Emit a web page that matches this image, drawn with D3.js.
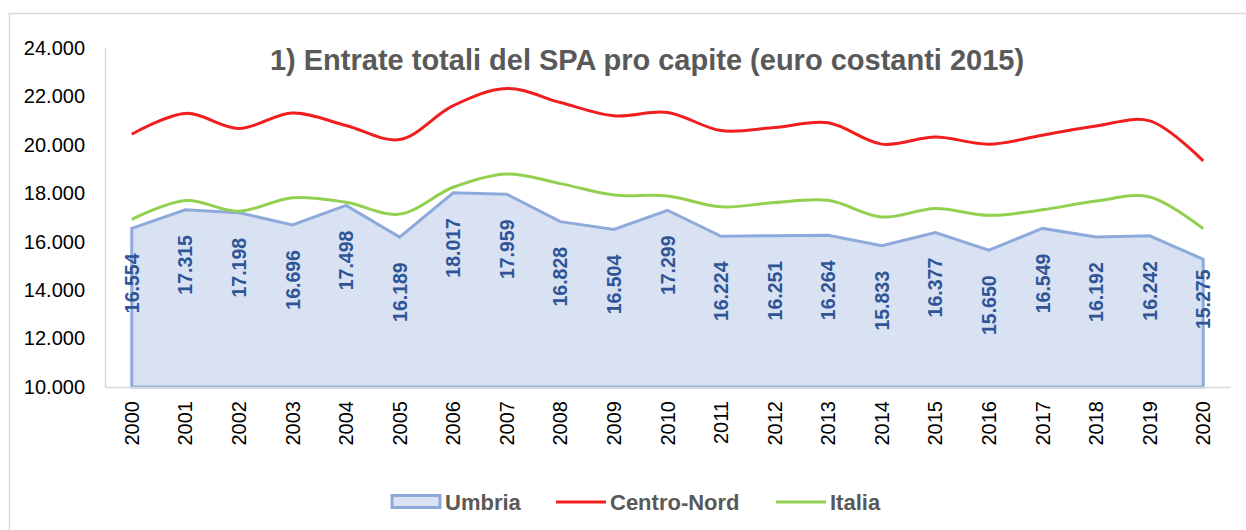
<!DOCTYPE html>
<html>
<head>
<meta charset="utf-8">
<script src="https://cdn.jsdelivr.net/npm/d3@7"></script>
<style>
  html, body { margin: 0; padding: 0; background: #fff; }
  svg { display: block; font-family: "Liberation Sans", Arial, sans-serif; }
</style>
</head>
<body>
<div id="chart"></div>
<script>
// data
const years = ["2000","2001","2002","2003","2004","2005","2006","2007","2008","2009","2010",
  "2011","2012","2013","2014","2015","2016","2017","2018","2019","2020"];
const umbria = [16554,17315,17198,16696,17498,16189,18017,17959,16828,16504,17299,
  16224,16251,16264,15833,16377,15650,16549,16192,16242,15275];
const centroNord = [20440,21300,20680,21320,20800,20220,21620,22330,21750,21200,21340,
  20590,20720,20910,20030,20320,20030,20400,20780,20990,19340];
const italia = [16920,17700,17260,17820,17630,17140,18250,18800,18400,17930,17890,
  17440,17620,17710,17020,17370,17090,17320,17680,17850,16540];
const yTicks = [10000,12000,14000,16000,18000,20000,22000,24000];
const title = "1) Entrate totali del SPA pro capite (euro costanti 2015)";

const W = 1246, H = 530;
const margin = {left: 105, right: 16, top: 48, bottom: 143};

const fmt = v => d3.format(",")(v).replace(/,/g, ".");

const svg = d3.select("#chart").append("svg")
  .attr("width", W).attr("height", H);

// outer frame
svg.append("rect")
  .attr("x", 9.5).attr("y", 13.5)
  .attr("width", W + 20).attr("height", H + 20)
  .attr("fill", "none").attr("stroke", "#d9d9d9").attr("stroke-width", 1.5);

const x = d3.scaleBand().domain(years).range([margin.left, W - margin.right]).padding(0);
const y = d3.scaleLinear().domain([10000, 24000]).range([H - margin.bottom, margin.top]);
const cx = d => x(d) + x.bandwidth() / 2;

// y axis labels
svg.append("g")
  .attr("transform", `translate(${margin.left},0)`)
  .call(d3.axisLeft(y).tickValues(yTicks).tickSize(0).tickPadding(20).tickFormat(fmt))
  .call(g => g.select(".domain").attr("stroke", "#d9d9d9").attr("stroke-width", 1.5))
  .call(g => g.selectAll("text").attr("font-size", 20).attr("fill", "#000")
    .attr("font-family", "Liberation Sans, Arial, sans-serif"));

// umbria area
const area = d3.area()
  .x((d, i) => cx(years[i]))
  .y0(y(10000))
  .y1(d => y(d));
svg.append("path")
  .datum(umbria)
  .attr("d", area)
  .attr("fill", "#d9e2f2")
  .attr("stroke", "#8eaadb")
  .attr("stroke-width", 3)
  .attr("stroke-linejoin", "miter");

// x axis
svg.append("g")
  .attr("transform", `translate(0,${y(10000)})`)
  .call(d3.axisBottom(x).tickSize(0).tickPadding(0))
  .call(g => g.select(".domain").attr("stroke", "#d9d9d9").attr("stroke-width", 1.5))
  .call(g => g.selectAll("text")
    .attr("font-size", 20).attr("fill", "#000")
    .attr("font-family", "Liberation Sans, Arial, sans-serif")
    .attr("text-anchor", "end")
    .attr("dy", null)
    .attr("transform", "translate(7,14) rotate(-90)"));

// smoothed lines
const line = d3.line()
  .x((d, i) => cx(years[i]))
  .y(d => y(d))
  .curve(d3.curveCatmullRom.alpha(0.5));

svg.append("path").datum(italia).attr("d", line)
  .attr("fill", "none").attr("stroke", "#92d050").attr("stroke-width", 3);
svg.append("path").datum(centroNord).attr("d", line)
  .attr("fill", "none").attr("stroke", "#f01e1e").attr("stroke-width", 3);

// data labels for umbria
svg.append("g").selectAll("text")
  .data(umbria)
  .enter()
  .append("text")
  .attr("transform", (d, i) => {
    const off = i === umbria.length - 1 ? 40 : 55;
    return `translate(${cx(years[i]) + 7},${y(d) + off}) rotate(-90)`;
  })
  .attr("text-anchor", "middle")
  .attr("font-size", 19.5)
  .attr("font-weight", "bold")
  .attr("fill", "#2f5597")
  .text(d => fmt(d));

// title
svg.append("text")
  .attr("x", 647).attr("y", 70)
  .attr("text-anchor", "middle")
  .attr("font-size", 29)
  .attr("font-weight", "bold")
  .attr("fill", "#595959")
  .text(title);

// legend
const legend = svg.append("g").attr("font-size", 22).attr("font-weight", "bold").attr("fill", "#595959");
legend.append("rect").attr("x", 392).attr("y", 495.5).attr("width", 48).attr("height", 12)
  .attr("fill", "#d9e2f2").attr("stroke", "#8eaadb").attr("stroke-width", 3);
legend.append("text").attr("x", 445).attr("y", 510).text("Umbria");
legend.append("line").attr("x1", 556).attr("x2", 606).attr("y1", 502).attr("y2", 502)
  .attr("stroke", "#f01e1e").attr("stroke-width", 3);
legend.append("text").attr("x", 610).attr("y", 510).text("Centro-Nord");
legend.append("line").attr("x1", 776).attr("x2", 826).attr("y1", 502).attr("y2", 502)
  .attr("stroke", "#92d050").attr("stroke-width", 3);
legend.append("text").attr("x", 830).attr("y", 510).text("Italia");
</script>
</body>
</html>
